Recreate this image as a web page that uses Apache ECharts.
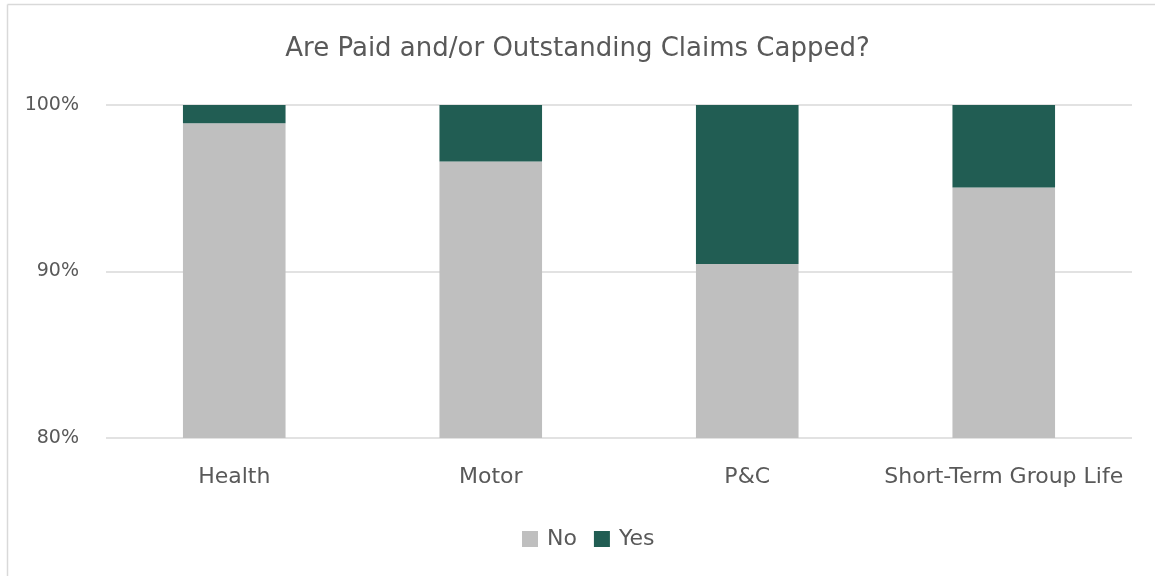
<!DOCTYPE html>
<html>
<head>
<meta charset="utf-8">
<script src="https://cdn.jsdelivr.net/npm/echarts@6/dist/echarts.min.js"></script>
<style>
  html, body { margin: 0; padding: 0; background: #fff; }
  #chart { width: 1155px; height: 576px; }
</style>
</head>
<body>
<div id="chart"></div>
<script>
// Share of respondents per line of business (percent)
const categories = ['Health', 'Motor', 'P&C', 'Short-Term Group Life'];
const noValues = [98.9, 96.6, 90.45, 95.05];
const yesValues = [1.1, 3.4, 9.55, 4.95];
const yTicks = [80, 90, 100];

const chart = echarts.init(document.getElementById('chart'));
const font = 'DejaVu Sans';
const textColor = '#595959';
const frameStyle = { stroke: '#d9d9d9', lineWidth: 1.5 };

chart.setOption({
  backgroundColor: '#ffffff',
  animation: false,
  textStyle: { fontFamily: font },
  // chart-area frame: left and top edges
  graphic: [
    { type: 'line', shape: { x1: 7.5, y1: 4.5, x2: 1155, y2: 4.5 }, style: frameStyle, silent: true },
    { type: 'line', shape: { x1: 7.5, y1: 4.5, x2: 7.5, y2: 576 }, style: frameStyle, silent: true }
  ],
  title: {
    text: 'Are Paid and/or Outstanding Claims Capped?',
    left: 'center',
    top: 31,
    textStyle: { fontFamily: font, fontSize: 26, fontWeight: 'normal', color: textColor }
  },
  legend: {
    data: ['No', 'Yes'],
    left: 517,
    top: 523,
    itemWidth: 16,
    itemHeight: 16,
    itemGap: 17,
    icon: 'rect',
    textStyle: { fontFamily: font, fontSize: 22, color: textColor, padding: [0, 0, 0, 4] }
  },
  grid: { left: 106, right: 23, top: 105, bottom: 138, containLabel: false },
  xAxis: {
    type: 'category',
    data: categories,
    axisLine: { show: false },
    axisTick: { show: false },
    axisLabel: { interval: 0, fontFamily: font, fontSize: 22, color: textColor, margin: 28 }
  },
  yAxis: {
    type: 'value',
    min: yTicks[0],
    max: yTicks[yTicks.length - 1],
    interval: 10,
    axisLine: { show: false },
    axisTick: { show: false },
    axisLabel: { fontFamily: font, fontSize: 19, color: textColor, margin: 27, formatter: v => v + '%' },
    splitLine: { lineStyle: { color: '#d9d9d9', width: 1.5 } }
  },
  series: [
    {
      name: 'No',
      type: 'bar',
      stack: 'total',
      barWidth: '40%',
      data: noValues,
      itemStyle: { color: '#bfbfbf' }
    },
    {
      name: 'Yes',
      type: 'bar',
      stack: 'total',
      barWidth: '40%',
      data: yesValues,
      itemStyle: { color: '#215d53' }
    }
  ]
});
</script>
</body>
</html>
